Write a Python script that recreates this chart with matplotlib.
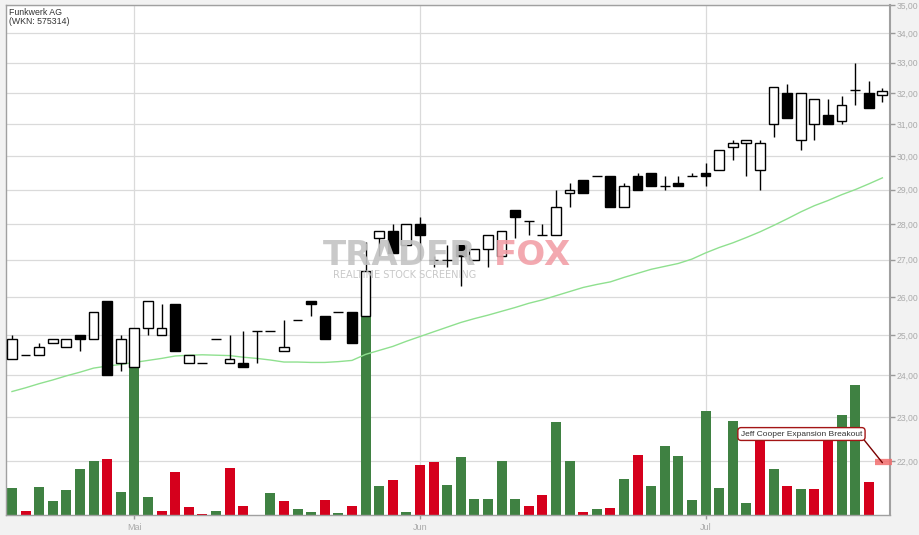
import matplotlib
matplotlib.use("Agg")
import matplotlib.pyplot as plt
from matplotlib.transforms import blended_transform_factory

plt.rcParams['font.family'] = ['Liberation Sans', 'DejaVu Sans']

# ---- data ----
title = "Funkwerk AG\n(WKN: 575314)"
month_labels = ["Mai", "Jun", "Jul"]
month_pos = [9, 30, 51]          # trading-day index of the first of each month
price_ticks = list(range(22, 36))
signal_label = "Jeff Cooper Expansion Breakout"
signal_price = 22.0

opens = [24.4, 24.5, 24.5, 24.8, 24.7, 25.0, 24.9, 25.9, 24.3, 24.2,
         25.2, 25.0, 25.8, 24.3, 24.3, 24.9, 24.3, 24.3, 25.1, 25.1,
         24.6, 25.4, 25.9, 25.5, 25.6, 25.6, 25.5, 27.6, 27.8, 27.4,
         28.0, 27.0, 27.0, 27.4, 27.0, 27.3, 27.1, 28.4, 28.1, 27.7,
         27.7, 28.9, 29.3, 29.4, 29.4, 28.5, 29.4, 29.5, 29.1, 29.2,
         29.4, 29.5, 29.6, 30.3, 30.4, 29.6, 31.0, 32.0, 30.5, 31.0,
         31.3, 31.1, 32.1, 32.0, 31.95]
highs = [25.0, 24.5, 24.8, 24.9, 24.9, 25.0, 25.6, 25.9, 25.0, 25.2,
         25.9, 25.8, 25.8, 24.5, 24.3, 24.9, 25.0, 25.1, 25.1, 25.1,
         25.4, 25.4, 25.9, 25.5, 25.6, 25.6, 27.5, 27.8, 28.0, 28.0,
         28.2, 27.1, 27.4, 27.4, 27.3, 27.7, 27.8, 28.4, 28.1, 28.0,
         29.0, 29.2, 29.3, 29.4, 29.4, 29.2, 29.5, 29.5, 29.4, 29.4,
         29.5, 29.8, 30.2, 30.5, 30.5, 30.5, 32.2, 32.3, 32.0, 31.8,
         31.8, 31.9, 33.0, 32.4, 32.15]
lows = [24.4, 24.5, 24.5, 24.8, 24.7, 24.6, 24.9, 24.0, 24.1, 24.2,
        25.0, 25.0, 24.6, 24.3, 24.3, 24.9, 24.3, 24.2, 24.3, 25.1,
        24.6, 25.4, 25.5, 24.9, 25.6, 24.8, 25.5, 27.1, 27.2, 27.4,
        27.0, 26.8, 26.8, 26.3, 27.0, 26.8, 27.1, 27.6, 27.7, 27.7,
        27.7, 28.5, 28.9, 29.4, 28.5, 28.5, 29.0, 29.1, 29.0, 29.1,
        29.4, 29.1, 29.6, 29.9, 29.4, 29.0, 30.6, 31.2, 30.2, 30.5,
        31.0, 31.0, 31.6, 31.5, 31.7]
closes = [24.9, 24.5, 24.7, 24.9, 24.9, 24.9, 25.6, 24.0, 24.9, 25.2,
          25.9, 25.2, 24.6, 24.5, 24.3, 24.9, 24.4, 24.2, 25.1, 25.1,
          24.7, 25.4, 25.8, 24.9, 25.6, 24.8, 26.7, 27.8, 27.2, 28.0,
          27.7, 27.0, 27.0, 27.1, 27.3, 27.7, 27.8, 28.2, 28.1, 27.7,
          28.5, 29.0, 28.9, 29.4, 28.5, 29.1, 29.0, 29.1, 29.1, 29.1,
          29.4, 29.4, 30.2, 30.4, 30.5, 30.4, 32.2, 31.2, 32.0, 31.8,
          31.0, 31.6, 32.1, 31.5, 32.05]
moving_avg = [23.61, 23.70, 23.80, 23.89, 23.99, 24.08, 24.18, 24.23, 24.27, 24.32,
              24.37, 24.42, 24.48, 24.50, 24.51, 24.50, 24.49, 24.45, 24.42, 24.38,
              24.33, 24.33, 24.32, 24.32, 24.34, 24.37, 24.52, 24.62, 24.72, 24.85,
              24.97, 25.09, 25.21, 25.33, 25.43, 25.52, 25.62, 25.72, 25.83, 25.92,
              26.03, 26.14, 26.25, 26.33, 26.40, 26.52, 26.63, 26.74, 26.82, 26.90,
              27.02, 27.19, 27.34, 27.47, 27.62, 27.78, 27.96, 28.15, 28.35, 28.53,
              28.68, 28.85, 29.00, 29.17, 29.35]
volumes = [27, 4, 28, 14, 25, 46, 54, 56, 23, 170,
           18, 4, 43, 8, 1, 4, 47, 9, 0, 22,
           14, 6, 3, 15, 2, 9, 215, 29, 35, 3,
           50, 53, 30, 58, 16, 16, 54, 16, 9, 20,
           93, 54, 3, 6, 7, 36, 60, 29, 69, 59,
           15, 104, 27, 94, 12, 78, 46, 29, 26, 26,
           78, 100, 130, 33]
volume_dir = ["up", "down", "up", "up", "up", "up", "up", "down", "up", "up",
              "up", "down", "down", "down", "down", "up", "down", "down", "up", "up",
              "down", "up", "up", "down", "up", "down", "up", "up", "down", "up",
              "down", "down", "up", "up", "up", "up", "up", "up", "down", "down",
              "up", "up", "down", "up", "down", "up", "down", "up", "up", "up",
              "up", "up", "up", "up", "up", "down", "up", "down", "up", "down",
              "down", "up", "up", "down"]
volume_scale = 510.0

days = list(range(len(closes)))

fig = plt.figure(figsize=(9.2, 5.35), dpi=100, facecolor='#f2f2f2')
ax = fig.add_axes([6 / 920, 20 / 535, 884 / 920, 510 / 535])
ax.set_facecolor('white')
ax.set_yscale('log')

# volume bars, scaled to the lower part of the plot
vol_trans = blended_transform_factory(ax.transData, ax.transAxes)
vol_colors = ['#3f8142' if d == "up" else '#d5001c' for d in volume_dir]
ax.bar(days[:len(volumes)], [v / volume_scale for v in volumes], width=0.74,
       bottom=0, color=vol_colors, transform=vol_trans, zorder=1)

# watermark
base_y = (535 - 265) / 535
fig.text(323 / 920, base_y, "TRADER", fontsize=24.5, fontweight='bold',
         color='#c4c4c4', alpha=0.9, va='baseline', family='DejaVu Sans', zorder=1)
fig.text(494 / 920, base_y, "FOX", fontsize=24.5, fontweight='bold',
         color='#f2a0a8', alpha=0.9, va='baseline', family='DejaVu Sans', zorder=1)
fig.text(333 / 920, (535 - 278) / 535, "REALTIME STOCK SCREENING", fontsize=7,
         color='#c8c8c8', va='baseline', family='DejaVu Sans', zorder=1)

# moving average
ax.plot(days, moving_avg, color='#8fe08f', linewidth=1, zorder=2)

# candles
ax.vlines(days, lows, highs, color='black', linewidth=1, zorder=3)
body_colors = ['white' if c >= o else 'black' for o, c in zip(opens, closes)]
ax.bar(days, [c - o for o, c in zip(opens, closes)], bottom=opens, width=0.72,
       color=body_colors, edgecolor='black', linewidth=1, zorder=4)

# signal marker and label
ax.plot([63.45, 64.7], [21.98, 21.98], color='#f26d6d', linewidth=4.5, alpha=0.85,
        solid_capstyle='butt', clip_on=False, zorder=5)
ax.annotate(signal_label, xy=(64.0, 21.96), xytext=(58.05, 22.61),
            ha='center', va='center', fontsize=6.0, color='#333333', zorder=6,
            bbox=dict(boxstyle='round,pad=0.35,rounding_size=0.4', fc='white',
                      ec='#a31515', lw=1),
            arrowprops=dict(arrowstyle='-', color='#7a0000', lw=1, relpos=(1, 0),
                            shrinkA=0, shrinkB=0))

# axes
ax.set_xlim(-0.44, 64.56)
ax.set_ylim(20.82, 35.0)
ax.set_yticks(price_ticks)
ax.set_yticklabels([f"{p:.2f}".replace('.', ',') for p in price_ticks])
ax.minorticks_off()
ax.yaxis.tick_right()
ax.set_xticks(month_pos)
ax.set_xticklabels(month_labels)
ax.tick_params(axis='y', colors='#999999', labelcolor='#aaaaaa', labelsize=6.2,
               length=3.5, width=1, pad=1)
ax.tick_params(axis='x', colors='#999999', labelcolor='#aaaaaa', labelsize=6.5,
               length=3, width=1, pad=3)
ax.grid(True, color='#dadada', linewidth=0.9)
ax.set_axisbelow(True)
for side in ['left', 'top', 'bottom']:
    ax.spines[side].set_color('#a0a0a0')
    ax.spines[side].set_linewidth(1)
ax.spines['right'].set_color('#a0a0a0')
ax.spines['right'].set_linewidth(1.5)

ax.text(0.003, 0.995, title, transform=ax.transAxes, ha='left', va='top',
        fontsize=6.3, color='#333333', linespacing=1.1)

fig.savefig("out.png", dpi=100, facecolor=fig.get_facecolor())
